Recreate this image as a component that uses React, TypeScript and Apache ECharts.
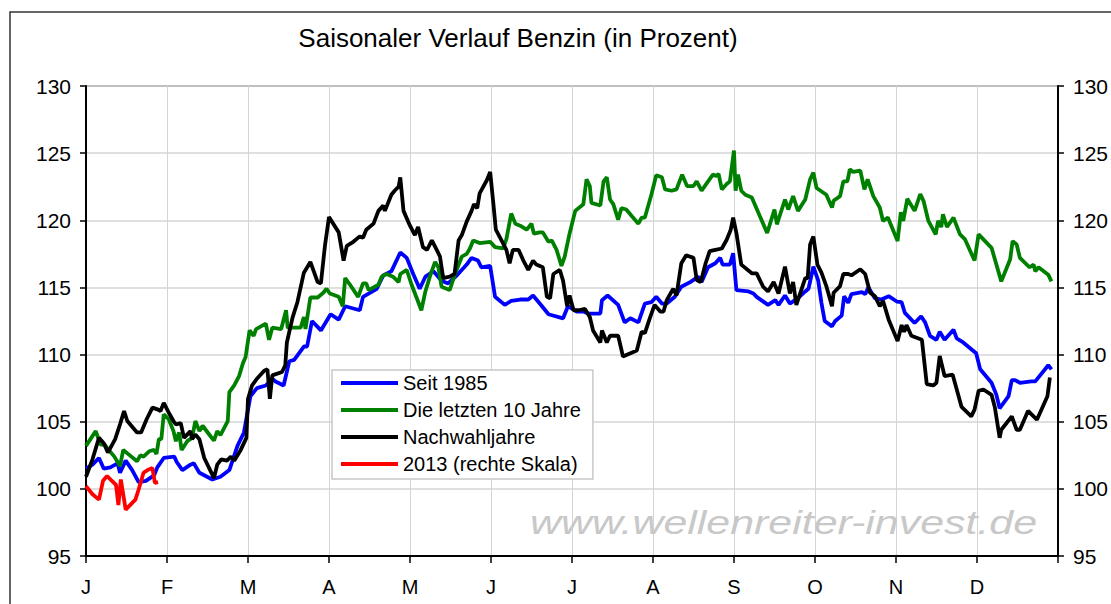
import React, { useEffect, useRef } from "react";
import * as echarts from "echarts";

// x values are in months from 1 January (0 = J, 12 = end of December)
const monthLabels = ["J", "F", "M", "A", "M", "J", "J", "A", "S", "O", "N", "D"];
const yTicks = { min: 95, max: 130, step: 5 };

const seit1985: [number, number][] = [
  [0.0, 101.5], [0.08, 101.8], [0.16, 102.3], [0.22, 101.5], [0.30, 101.6], [0.39, 101.9], [0.42, 101.2], [0.49, 102.1],
  [0.57, 101.4], [0.65, 100.5], [0.74, 100.6], [0.84, 101.0], [0.88, 101.6], [0.96, 102.3], [1.09, 102.4], [1.12, 102.0],
  [1.19, 101.4], [1.29, 101.8], [1.33, 101.9], [1.40, 101.2], [1.56, 100.7], [1.66, 100.9], [1.77, 101.4], [1.87, 103.2],
  [1.95, 104.2], [2.03, 106.9], [2.11, 107.5], [2.22, 107.7], [2.30, 108.2], [2.34, 108.0], [2.44, 107.7], [2.51, 109.5],
  [2.57, 109.6], [2.69, 110.6], [2.73, 110.6], [2.79, 112.5], [2.90, 111.8], [3.02, 113.0], [3.12, 112.6], [3.20, 113.6],
  [3.38, 113.3], [3.42, 114.3], [3.59, 114.9], [3.67, 115.9], [3.77, 116.2], [3.88, 117.6], [3.96, 117.2], [4.04, 116.0],
  [4.12, 114.9], [4.19, 115.8], [4.29, 116.2], [4.39, 115.5], [4.47, 115.3], [4.58, 115.9], [4.70, 116.7], [4.76, 117.2],
  [4.84, 117.0], [4.88, 116.5], [4.99, 116.6], [5.05, 114.3], [5.17, 113.7], [5.25, 114.0], [5.36, 114.1], [5.46, 114.1],
  [5.52, 114.4], [5.63, 113.6], [5.71, 113.0], [5.89, 112.7], [5.95, 113.6], [6.06, 113.2], [6.14, 113.2], [6.20, 113.05],
  [6.35, 113.05], [6.37, 114.05], [6.44, 114.4], [6.57, 113.7], [6.65, 112.4], [6.72, 112.7], [6.82, 112.4], [6.90, 113.8],
  [6.98, 113.9], [7.04, 114.3], [7.11, 113.8], [7.17, 113.8], [7.27, 114.3], [7.35, 115.05], [7.46, 115.4], [7.56, 115.8],
  [7.60, 115.4], [7.68, 116.5], [7.77, 116.8], [7.83, 117.2], [7.86, 116.7], [7.95, 116.7], [7.99, 117.55], [8.03, 114.8],
  [8.18, 114.7], [8.24, 114.55], [8.28, 114.3], [8.42, 113.7], [8.51, 114.05], [8.55, 113.7], [8.63, 114.4], [8.69, 113.8],
  [8.79, 114.2], [8.88, 114.7], [8.92, 114.9], [8.98, 116.55], [9.04, 115.5], [9.08, 113.85], [9.12, 112.5], [9.21, 112.1],
  [9.25, 112.5], [9.33, 112.9], [9.36, 114.35], [9.41, 113.85], [9.45, 114.5], [9.58, 114.65], [9.62, 114.5], [9.66, 115.0],
  [9.74, 114.2], [9.82, 114.1], [9.91, 114.35], [10.01, 113.95], [10.07, 113.9], [10.11, 113.1], [10.23, 112.35], [10.31, 112.85],
  [10.36, 112.4], [10.42, 111.4], [10.50, 111.1], [10.54, 111.7], [10.60, 111.1], [10.71, 111.85], [10.75, 111.2], [10.83, 110.9],
  [10.99, 110.1], [11.04, 108.9], [11.18, 107.9], [11.24, 107.0], [11.28, 106.0], [11.39, 106.9], [11.43, 108.1], [11.47, 108.1],
  [11.53, 107.9], [11.67, 108.0], [11.72, 108.0], [11.88, 109.2], [11.92, 108.9],
];

const letzten10: [number, number][] = [
  [0.0, 103.2], [0.12, 104.3], [0.18, 103.3], [0.23, 103.3], [0.26, 103.05], [0.35, 102.4], [0.42, 101.7], [0.46, 102.9],
  [0.53, 102.55], [0.63, 102.05], [0.67, 102.5], [0.71, 102.4], [0.78, 102.8], [0.84, 102.9], [0.87, 102.6], [0.90, 103.7],
  [0.93, 103.7], [0.96, 105.55], [1.02, 105.2], [1.08, 104.3], [1.11, 103.55], [1.15, 104.2], [1.18, 102.9], [1.25, 103.55],
  [1.31, 103.8], [1.35, 105.05], [1.40, 104.3], [1.44, 104.7], [1.54, 103.9], [1.58, 103.6], [1.62, 104.3], [1.66, 104.0],
  [1.75, 105.05], [1.77, 107.2], [1.83, 107.7], [1.89, 108.4], [1.94, 109.4], [1.97, 109.8], [2.02, 111.8], [2.07, 111.4],
  [2.10, 111.9], [2.22, 112.3], [2.26, 111.1], [2.30, 112.0], [2.41, 111.9], [2.47, 113.3], [2.49, 112.0], [2.57, 112.0],
  [2.65, 112.0], [2.69, 112.8], [2.71, 111.9], [2.77, 114.25], [2.86, 114.25], [2.93, 114.6], [2.97, 114.9], [3.01, 114.55],
  [3.12, 114.3], [3.17, 113.6], [3.20, 115.7], [3.26, 115.2], [3.36, 114.3], [3.42, 115.3], [3.46, 115.3], [3.49, 114.8],
  [3.61, 115.2], [3.65, 115.8], [3.71, 116.0], [3.79, 115.8], [3.86, 115.4], [3.88, 116.0], [3.96, 116.3], [4.02, 115.2],
  [4.09, 114.1], [4.14, 113.3], [4.19, 114.7], [4.25, 115.9], [4.31, 116.9], [4.35, 116.5], [4.39, 115.05], [4.49, 114.8],
  [4.55, 115.9], [4.64, 117.3], [4.70, 117.5], [4.74, 117.9], [4.78, 118.5], [4.86, 118.3], [4.99, 118.4], [5.05, 118.0],
  [5.15, 117.9], [5.19, 118.6], [5.25, 120.5], [5.30, 119.75], [5.36, 119.6], [5.44, 119.3], [5.50, 119.75], [5.53, 119.0],
  [5.60, 119.1], [5.64, 119.1], [5.71, 118.4], [5.75, 118.5], [5.81, 117.8], [5.87, 116.6], [5.91, 117.3], [5.97, 119.0],
  [6.04, 120.7], [6.14, 121.2], [6.18, 123.05], [6.22, 122.55], [6.24, 121.3], [6.35, 121.1], [6.39, 122.9], [6.43, 123.2],
  [6.47, 121.55], [6.51, 121.2], [6.57, 120.05], [6.61, 120.9], [6.67, 120.8], [6.74, 120.3], [6.82, 119.75], [6.86, 120.2],
  [6.90, 120.2], [6.98, 121.9], [7.04, 123.35], [7.11, 123.2], [7.15, 122.3], [7.23, 122.2], [7.29, 122.3], [7.36, 123.4],
  [7.42, 122.55], [7.50, 122.55], [7.54, 122.9], [7.60, 122.2], [7.68, 122.9], [7.74, 123.4], [7.78, 123.3], [7.81, 123.45],
  [7.85, 122.3], [7.91, 122.7], [7.95, 122.9], [8.0, 125.2], [8.02, 122.2], [8.05, 123.4], [8.09, 122.2], [8.14, 121.9],
  [8.22, 121.7], [8.32, 120.3], [8.41, 119.05], [8.50, 120.8], [8.53, 119.7], [8.63, 121.55], [8.67, 120.8], [8.73, 121.8],
  [8.79, 120.7], [8.88, 121.55], [8.94, 123.05], [8.98, 123.55], [9.02, 122.4], [9.14, 121.9], [9.21, 120.95], [9.23, 121.45],
  [9.31, 121.8], [9.35, 122.9], [9.40, 122.9], [9.43, 123.8], [9.47, 123.6], [9.56, 123.7], [9.61, 122.3], [9.65, 123.05],
  [9.72, 121.8], [9.80, 120.95], [9.84, 119.95], [9.90, 120.2], [10.02, 118.45], [10.06, 120.6], [10.09, 119.95], [10.14, 121.6],
  [10.23, 120.7], [10.30, 121.95], [10.34, 121.45], [10.40, 119.95], [10.49, 118.95], [10.52, 119.95], [10.56, 119.5], [10.58, 120.45],
  [10.63, 119.5], [10.71, 120.2], [10.79, 118.95], [10.85, 118.6], [10.97, 117.0], [11.02, 118.95], [11.10, 118.45], [11.18, 117.95],
  [11.30, 115.45], [11.41, 117.1], [11.44, 118.45], [11.49, 118.2], [11.53, 117.2], [11.65, 116.5], [11.70, 116.7], [11.72, 116.2],
  [11.76, 116.5], [11.88, 115.95], [11.92, 115.45],
];

const nachwahljahre: [number, number][] = [
  [0.0, 100.9], [0.08, 102.2], [0.16, 103.8], [0.22, 103.4], [0.27, 102.7], [0.36, 103.7], [0.42, 104.8], [0.47, 105.8],
  [0.51, 105.05], [0.63, 104.2], [0.68, 104.2], [0.75, 105.2], [0.82, 106.05], [0.89, 105.9], [0.92, 105.8], [0.96, 106.4],
  [1.02, 105.7], [1.08, 105.05], [1.11, 104.8], [1.17, 104.9], [1.21, 103.8], [1.29, 104.3], [1.31, 103.7], [1.35, 104.05],
  [1.40, 103.7], [1.46, 102.3], [1.58, 100.8], [1.62, 101.8], [1.67, 102.2], [1.74, 102.1], [1.79, 102.4], [1.83, 102.1],
  [1.91, 102.9], [1.98, 103.8], [2.0, 106.7], [2.05, 107.7], [2.11, 108.2], [2.20, 108.8], [2.24, 108.9], [2.27, 106.7],
  [2.30, 108.45], [2.42, 108.7], [2.46, 109.2], [2.48, 110.9], [2.55, 112.75], [2.61, 113.9], [2.69, 116.1], [2.77, 116.9],
  [2.86, 115.4], [2.90, 115.3], [2.95, 118.1], [3.0, 120.25], [3.12, 119.1], [3.18, 117.0], [3.22, 118.1], [3.30, 118.4],
  [3.38, 118.8], [3.42, 118.7], [3.46, 119.3], [3.55, 119.75], [3.61, 120.7], [3.67, 121.1], [3.69, 120.7], [3.77, 121.9],
  [3.81, 122.2], [3.86, 122.5], [3.88, 123.2], [3.92, 120.7], [4.0, 119.6], [4.06, 118.9], [4.10, 119.5], [4.16, 118.0],
  [4.21, 117.8], [4.27, 118.5], [4.33, 117.8], [4.37, 117.3], [4.41, 115.7], [4.49, 115.8], [4.55, 116.0], [4.60, 118.5],
  [4.64, 118.9], [4.70, 119.9], [4.76, 120.7], [4.79, 121.2], [4.83, 120.9], [4.86, 122.0], [4.95, 123.0], [4.99, 123.6],
  [5.03, 121.2], [5.06, 119.3], [5.13, 118.5], [5.19, 117.8], [5.23, 116.8], [5.27, 117.8], [5.34, 117.8], [5.40, 117.0],
  [5.46, 116.3], [5.52, 117.0], [5.56, 116.7], [5.64, 116.5], [5.69, 114.3], [5.73, 114.2], [5.77, 116.0], [5.85, 116.3],
  [5.89, 115.5], [5.94, 113.6], [5.97, 114.4], [6.02, 113.3], [6.08, 113.3], [6.16, 113.4], [6.22, 112.8], [6.26, 111.8],
  [6.35, 110.9], [6.37, 111.8], [6.43, 110.9], [6.47, 111.4], [6.57, 111.4], [6.63, 109.85], [6.80, 110.3], [6.86, 111.7],
  [6.90, 111.6], [6.96, 112.7], [7.02, 113.7], [7.09, 113.2], [7.13, 113.2], [7.17, 114.05], [7.25, 114.9], [7.29, 114.4],
  [7.35, 116.8], [7.41, 117.4], [7.50, 117.2], [7.54, 115.55], [7.59, 115.4], [7.65, 116.8], [7.70, 117.7], [7.77, 117.8],
  [7.85, 117.9], [7.91, 118.55], [7.96, 119.3], [7.99, 120.2], [8.03, 119.05], [8.09, 116.7], [8.22, 116.05], [8.28, 116.05],
  [8.36, 115.05], [8.42, 114.7], [8.49, 115.4], [8.55, 114.55], [8.63, 116.55], [8.69, 114.55], [8.73, 115.4], [8.77, 113.7],
  [8.88, 115.7], [8.91, 115.7], [8.94, 118.2], [8.98, 118.8], [9.03, 116.7], [9.08, 116.1], [9.14, 115.1], [9.21, 113.6],
  [9.23, 114.6], [9.31, 115.1], [9.35, 116.0], [9.41, 116.0], [9.45, 115.9], [9.56, 116.35], [9.62, 116.0], [9.68, 114.6],
  [9.74, 114.35], [9.80, 113.6], [9.84, 114.0], [9.91, 112.6], [10.02, 111.0], [10.07, 112.2], [10.10, 111.7], [10.13, 112.2],
  [10.19, 111.4], [10.32, 111.1], [10.38, 107.8], [10.46, 107.7], [10.50, 107.9], [10.54, 109.9], [10.60, 108.4], [10.70, 108.5],
  [10.81, 106.1], [10.93, 105.4], [10.97, 105.9], [11.02, 107.3], [11.08, 107.4], [11.18, 107.0], [11.22, 106.1], [11.28, 103.8],
  [11.30, 104.4], [11.43, 105.4], [11.49, 104.4], [11.53, 104.4], [11.63, 105.8], [11.74, 105.15], [11.87, 106.9], [11.90, 108.3],
];

const jahr2013: [number, number][] = [
  [0.0, 100.2], [0.08, 99.6], [0.16, 99.2], [0.21, 100.6], [0.26, 100.95], [0.32, 100.6], [0.37, 100.3], [0.40, 98.8],
  [0.43, 100.7], [0.49, 98.45], [0.61, 99.2], [0.65, 99.95], [0.71, 101.2], [0.76, 101.4], [0.82, 101.55], [0.85, 100.45],
  [0.89, 100.5],
];

const seriesNames = ["Seit 1985", "Die letzten 10 Jahre", "Nachwahljahre", "2013 (rechte Skala)"];
const seriesColors = ["#0000ff", "#008000", "#000000", "#ff0000"];

const FONT = "'Liberation Sans', Arial, sans-serif";

export default function App() {
  const ref = useRef<HTMLDivElement>(null);

  useEffect(() => {
    if (!ref.current) return;
    const chart = echarts.init(ref.current, undefined, { renderer: "svg" });
    const yAxisBase = {
      type: "value",
      min: yTicks.min,
      max: yTicks.max,
      interval: yTicks.step,
      axisLine: { show: true, lineStyle: { color: "#000", width: 2 } },
      axisTick: { show: true, inside: false, length: 6, lineStyle: { color: "#000", width: 1.5 } },
      axisLabel: { color: "#000", fontSize: 21, fontFamily: FONT, margin: 15 },
    };
    const datasets = [seit1985, letzten10, nachwahljahre, jahr2013];
    chart.setOption({
      animation: false,
      backgroundColor: "#fff",
      textStyle: { fontFamily: FONT },
      title: {
        text: "Saisonaler Verlauf Benzin (in Prozent)",
        left: 513,
        textAlign: "center",
        top: 20,
        textStyle: { fontSize: 26, fontWeight: "normal", color: "#000", fontFamily: FONT },
      },
      grid: {
        left: 86,
        right: 53,
        top: 86,
        bottom: 48,
        show: true,
        borderColor: "#555",
        borderWidth: 1.5,
        backgroundColor: "transparent",
      },
      legend: {
        orient: "vertical",
        left: 332,
        top: 370,
        data: seriesNames,
        icon: "rect",
        itemWidth: 57,
        itemHeight: 4,
        itemGap: 7,
        padding: [3, 12, 5, 9],
        borderColor: "#c8c8c8",
        borderWidth: 1.5,
        backgroundColor: "#fff",
        textStyle: { fontSize: 20, color: "#000", fontFamily: FONT, lineHeight: 20 },
      },
      xAxis: {
        type: "value",
        min: 0,
        max: 12,
        interval: 1,
        axisLine: { show: true, lineStyle: { color: "#000", width: 2 } },
        axisTick: { show: true, inside: false, length: 7, lineStyle: { color: "#000", width: 1.5 } },
        axisLabel: {
          color: "#000",
          fontSize: 20,
          fontFamily: FONT,
          margin: 21,
          showMaxLabel: true,
          formatter: (v: number) => monthLabels[Math.round(v)] ?? "",
        },
        splitLine: { show: true, lineStyle: { color: "#d4d4d4", width: 1 } },
      },
      yAxis: [
        { ...yAxisBase, position: "left", splitLine: { show: true, lineStyle: { color: "#d4d4d4", width: 1.5 } } },
        { ...yAxisBase, position: "right", splitLine: { show: false } },
      ],
      graphic: [
        {
          type: "rect",
          shape: { x: 10, y: 12, width: 1200, height: 700 },
          style: { fill: "none", stroke: "#333", lineWidth: 1.5 },
          silent: true,
          z: 0,
        },
        {
          type: "text",
          x: 530,
          y: 522,
          scaleX: 1.3,
          silent: true,
          z: 1,
          style: {
            text: "www.wellenreiter-invest.de",
            fontSize: 33,
            fontStyle: "italic",
            fontFamily: FONT,
            fill: "#c8c8c8",
            textAlign: "left",
            textVerticalAlign: "middle",
            verticalAlign: "middle",
          },
        },
      ],
      series: datasets.map((d, i) => ({
        name: seriesNames[i],
        type: "line",
        yAxisIndex: i === 3 ? 1 : 0,
        data: d,
        showSymbol: false,
        symbol: "none",
        color: seriesColors[i],
        lineStyle: { color: seriesColors[i], width: 3.8 },
        z: 3 + (i === 2 ? 1 : 0),
      })),
    });
    return () => chart.dispose();
  }, []);

  return (
    <div
      ref={ref}
      style={{ position: "absolute", left: 0, top: 0, width: 1111, height: 604, background: "#fff" }}
    />
  );
}
